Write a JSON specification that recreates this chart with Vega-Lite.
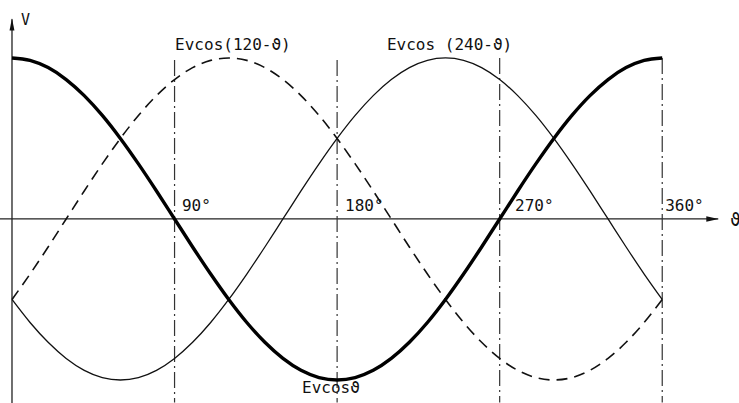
{
  "$schema": "https://vega.github.io/schema/vega-lite/v6.json",
  "width": 739,
  "height": 403,
  "autosize": "none",
  "padding": 0,
  "background": "white",
  "config": {"view": {"stroke": null}},
  "datasets": {
    "cosA": [
      {"theta": 0, "v": 1}, {"theta": 10, "v": 0.985}, {"theta": 20, "v": 0.94}, {"theta": 30, "v": 0.866},
      {"theta": 40, "v": 0.766}, {"theta": 50, "v": 0.643}, {"theta": 60, "v": 0.5}, {"theta": 70, "v": 0.342},
      {"theta": 80, "v": 0.174}, {"theta": 90, "v": 0}, {"theta": 100, "v": -0.174}, {"theta": 110, "v": -0.342},
      {"theta": 120, "v": -0.5}, {"theta": 130, "v": -0.643}, {"theta": 140, "v": -0.766}, {"theta": 150, "v": -0.866},
      {"theta": 160, "v": -0.94}, {"theta": 170, "v": -0.985}, {"theta": 180, "v": -1}, {"theta": 190, "v": -0.985},
      {"theta": 200, "v": -0.94}, {"theta": 210, "v": -0.866}, {"theta": 220, "v": -0.766}, {"theta": 230, "v": -0.643},
      {"theta": 240, "v": -0.5}, {"theta": 250, "v": -0.342}, {"theta": 260, "v": -0.174}, {"theta": 270, "v": 0},
      {"theta": 280, "v": 0.174}, {"theta": 290, "v": 0.342}, {"theta": 300, "v": 0.5}, {"theta": 310, "v": 0.643},
      {"theta": 320, "v": 0.766}, {"theta": 330, "v": 0.866}, {"theta": 340, "v": 0.94}, {"theta": 350, "v": 0.985},
      {"theta": 360, "v": 1}
    ],
    "cosB": [
      {"theta": 0, "v": -0.5}, {"theta": 10, "v": -0.342}, {"theta": 20, "v": -0.174}, {"theta": 30, "v": 0},
      {"theta": 40, "v": 0.174}, {"theta": 50, "v": 0.342}, {"theta": 60, "v": 0.5}, {"theta": 70, "v": 0.643},
      {"theta": 80, "v": 0.766}, {"theta": 90, "v": 0.866}, {"theta": 100, "v": 0.94}, {"theta": 110, "v": 0.985},
      {"theta": 120, "v": 1}, {"theta": 130, "v": 0.985}, {"theta": 140, "v": 0.94}, {"theta": 150, "v": 0.866},
      {"theta": 160, "v": 0.766}, {"theta": 170, "v": 0.643}, {"theta": 180, "v": 0.5}, {"theta": 190, "v": 0.342},
      {"theta": 200, "v": 0.174}, {"theta": 210, "v": 0}, {"theta": 220, "v": -0.174}, {"theta": 230, "v": -0.342},
      {"theta": 240, "v": -0.5}, {"theta": 250, "v": -0.643}, {"theta": 260, "v": -0.766}, {"theta": 270, "v": -0.866},
      {"theta": 280, "v": -0.94}, {"theta": 290, "v": -0.985}, {"theta": 300, "v": -1}, {"theta": 310, "v": -0.985},
      {"theta": 320, "v": -0.94}, {"theta": 330, "v": -0.866}, {"theta": 340, "v": -0.766}, {"theta": 350, "v": -0.643},
      {"theta": 360, "v": -0.5}
    ],
    "cosC": [
      {"theta": 0, "v": -0.5}, {"theta": 10, "v": -0.643}, {"theta": 20, "v": -0.766}, {"theta": 30, "v": -0.866},
      {"theta": 40, "v": -0.94}, {"theta": 50, "v": -0.985}, {"theta": 60, "v": -1}, {"theta": 70, "v": -0.985},
      {"theta": 80, "v": -0.94}, {"theta": 90, "v": -0.866}, {"theta": 100, "v": -0.766}, {"theta": 110, "v": -0.643},
      {"theta": 120, "v": -0.5}, {"theta": 130, "v": -0.342}, {"theta": 140, "v": -0.174}, {"theta": 150, "v": 0},
      {"theta": 160, "v": 0.174}, {"theta": 170, "v": 0.342}, {"theta": 180, "v": 0.5}, {"theta": 190, "v": 0.643},
      {"theta": 200, "v": 0.766}, {"theta": 210, "v": 0.866}, {"theta": 220, "v": 0.94}, {"theta": 230, "v": 0.985},
      {"theta": 240, "v": 1}, {"theta": 250, "v": 0.985}, {"theta": 260, "v": 0.94}, {"theta": 270, "v": 0.866},
      {"theta": 280, "v": 0.766}, {"theta": 290, "v": 0.643}, {"theta": 300, "v": 0.5}, {"theta": 310, "v": 0.342},
      {"theta": 320, "v": 0.174}, {"theta": 330, "v": 0}, {"theta": 340, "v": -0.174}, {"theta": 350, "v": -0.342},
      {"theta": 360, "v": -0.5}
    ],
    "guides": [
      {"theta": 90, "top": 0.988, "bottom": -1.14},
      {"theta": 180, "top": 0.988, "bottom": -1.14},
      {"theta": 270, "top": 1.0, "bottom": -1.14},
      {"theta": 360, "top": 1.0, "bottom": -1.14}
    ],
    "labels": [
      {"theta": 90.3, "v": 1.081, "text": "Evcos(120-ϑ)", "size": 16},
      {"theta": 207.6, "v": 1.081, "text": "Evcos (240-ϑ)", "size": 16},
      {"theta": 160.6, "v": -1.05, "text": "Evcosϑ", "size": 16},
      {"theta": 94.1, "v": 0.081, "text": "90°", "size": 16},
      {"theta": 184.4, "v": 0.081, "text": "180°", "size": 16},
      {"theta": 278.5, "v": 0.081, "text": "270°", "size": 16},
      {"theta": 361.6, "v": 0.081, "text": "360°", "size": 16},
      {"theta": 5.0, "v": 1.236, "text": "V", "size": 15},
      {"theta": 397.6, "v": -0.012, "text": "ϑ", "size": 17}
    ]
  },
  "encoding": {
    "x": {"field": "theta", "type": "quantitative",
          "scale": {"domain": [-6.64, 402.5], "nice": false, "zero": false}, "axis": null},
    "y": {"field": "v", "type": "quantitative",
          "scale": {"domain": [-1.143, 1.36], "nice": false, "zero": false}, "axis": null}
  },
  "layer": [
    {
      "description": "horizontal theta axis",
      "data": {"values": [{"a": -6.64, "b": 391, "v": 0}]},
      "mark": {"type": "rule", "color": "#222", "strokeWidth": 1.3},
      "encoding": {"x": {"field": "a", "type": "quantitative"}, "x2": {"field": "b"}}
    },
    {
      "description": "vertical V axis",
      "data": {"values": [{"theta": 0, "a": -1.143, "b": 1.24}]},
      "mark": {"type": "rule", "color": "#222", "strokeWidth": 1.3},
      "encoding": {"y": {"field": "a", "type": "quantitative"}, "y2": {"field": "b"}}
    },
    {
      "description": "axis arrowheads",
      "data": {"values": [{"theta": 387.8, "v": 0, "dir": "x"}]},
      "mark": {"type": "point", "filled": true, "color": "#111", "opacity": 1, "size": 150,
               "shape": "M1,0L-1,-0.45L-1,0.45Z"}
    },
    {
      "data": {"values": [{"theta": 0, "v": 1.208}]},
      "mark": {"type": "point", "filled": true, "color": "#111", "opacity": 1, "size": 150,
               "shape": "M0,-1L0.4,1L-0.4,1Z"}
    },
    {
      "description": "dash-dot guides at 90, 180, 270, 360 degrees",
      "data": {"name": "guides"},
      "mark": {"type": "rule", "color": "#333", "strokeWidth": 1.2, "strokeDash": [16, 4, 2, 4]},
      "encoding": {"y": {"field": "top", "type": "quantitative"}, "y2": {"field": "bottom"}}
    },
    {
      "description": "E cos(120 - theta)",
      "data": {"name": "cosB"},
      "mark": {"type": "line", "interpolate": "monotone", "color": "#111", "strokeWidth": 1.6, "strokeDash": [11, 7]}
    },
    {
      "description": "E cos(240 - theta)",
      "data": {"name": "cosC"},
      "mark": {"type": "line", "interpolate": "monotone", "color": "#111", "strokeWidth": 1.3}
    },
    {
      "description": "E cos(theta)",
      "data": {"name": "cosA"},
      "mark": {"type": "line", "interpolate": "monotone", "color": "#000", "strokeWidth": 3.4}
    },
    {
      "data": {"name": "labels"},
      "mark": {"type": "text", "align": "left", "baseline": "middle", "font": "DejaVu Sans Mono", "color": "#111"},
      "encoding": {"text": {"field": "text"}, "size": {"field": "size", "type": "quantitative", "scale": null}}
    }
  ]
}
